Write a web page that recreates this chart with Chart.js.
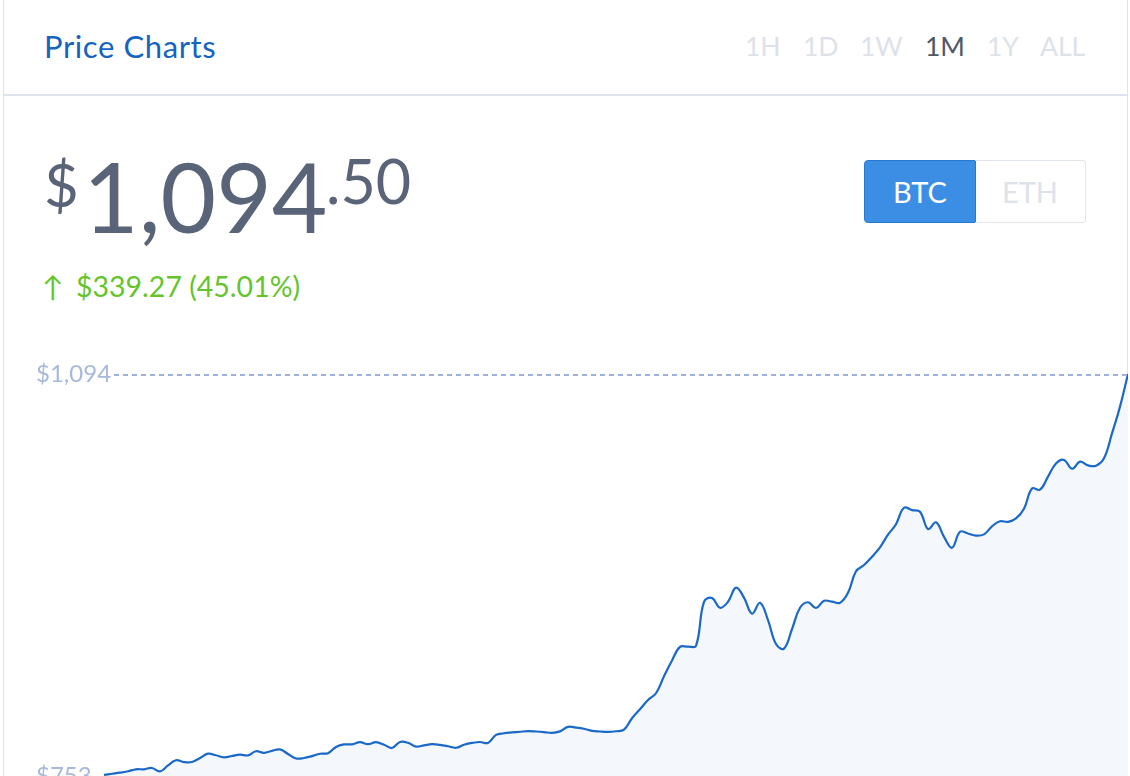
<!DOCTYPE html>
<html>
<head>
<meta charset="utf-8">
<title>Price Charts</title>
<script src="https://cdn.jsdelivr.net/npm/chart.js"></script>
<style>
    html, body { margin: 0; padding: 0; background: #fff; }
    body { width: 1130px; height: 776px; overflow: hidden; position: relative; font-family: Lato, "Open Sans", sans-serif; }
    .card { position: absolute; left: 3px; top: -2px; width: 1123px; height: 900px; border: 1px solid #dde3ec; border-top: none; }
    .abs { position: absolute; white-space: nowrap; line-height: normal; }
    .divider { position: absolute; left: 3px; top: 94px; width: 1125px; height: 2px; background: #dde3ec; }
    .title { left: 44px; top: 27px; font-size: 31px; letter-spacing: 0.6px; color: #1464c0; }
    .tab { top: 30px; font-size: 26.5px; color: #dde2ea; }
    .tab.active { color: #4f5868; }
    .price { color: #5a6478; font-weight: 400; }
    .change { top: 269px; font-size: 28.5px; color: #63c52b; }
    .toggle { position: absolute; left: 864px; top: 160px; width: 223px; height: 63px; }
    .toggle div { position: absolute; top: 0; height: 61px; line-height: 61px; text-align: center; font-size: 29px; box-sizing: content-box; }
    .btc { left: 0; width: 110px; background: #3b8ee4; border: 1px solid #2b78d0; border-radius: 4px 0 0 4px; color: #fff; }
    .eth { left: 111px; width: 110px; border: 1px solid #e1e6ee; border-left: none; border-radius: 0 4px 4px 0; color: #dde2ea; }
    #priceChart { position: absolute; left: 4px; top: 330px; }
</style>
</head>
<body>
<div class="card"></div>
<div class="divider"></div>

<div class="abs title">Price Charts</div>
<div class="abs tab" style="left:745px">1H</div>
<div class="abs tab" style="left:803px">1D</div>
<div class="abs tab" style="left:860px">1W</div>
<div class="abs tab active" style="left:925px">1M</div>
<div class="abs tab" style="left:987px">1Y</div>
<div class="abs tab" style="left:1040px">ALL</div>

<div class="abs price" style="left:44px; top:148px; font-size:60px">$</div>
<div class="abs price" style="left:83px; top:138px; font-size:96px">1,094</div>
<div class="abs price" style="left:326px; top:144px; font-size:61px">.50</div>

<div class="abs change" style="left:42px">&#8593;</div>
<div class="abs change" style="left:76px">$339.27 (45.01%)</div>

<div class="toggle">
    <div class="btc">BTC</div>
    <div class="eth">ETH</div>
</div>

<canvas id="priceChart" width="1124" height="470"></canvas>

<script>
    // BTC price over the last month (USD)
    const prices = [
        754.0, 754.9, 755.8, 757.0, 758.7, 758.7, 759.8, 756.9, 762.0, 766.4,
        764.8, 764.9, 768.3, 772.0, 770.6, 768.9, 770.0, 771.2, 770.5, 774.0,
        772.7, 774.4, 775.6, 771.7, 767.9, 768.3, 769.9, 771.9, 772.4, 777.7,
        779.8, 779.9, 781.7, 780.0, 781.7, 779.6, 776.8, 781.9, 781.2, 778.0,
        779.0, 780.0, 779.4, 778.3, 777.0, 779.5, 781.1, 781.9, 781.1, 787.9,
        789.3, 790.0, 790.6, 791.1, 790.8, 790.3, 789.6, 790.9, 794.7, 794.1,
        793.1, 791.4, 790.8, 790.5, 791.0, 792.4, 802.1, 809.7, 817.6, 823.3,
        837.7, 851.1, 862.7, 862.9, 863.6, 901.0, 904.2, 895.9, 901.0, 913.0,
        904.5, 890.9, 900.1, 885.5, 865.1, 861.2, 877.8, 895.9, 900.6, 895.7,
        901.8, 901.1, 900.1, 908.6, 926.9, 932.2, 939.3, 947.3, 958.0, 966.9,
        980.9, 978.9, 977.5, 962.8, 968.5, 956.2, 946.9, 960.5, 959.0, 957.2,
        958.3, 965.1, 969.4, 968.9, 971.8, 980.1, 997.3, 996.2, 1007.3, 1018.4,
        1021.5, 1014.0, 1020.0, 1016.9, 1016.6, 1022.9, 1044.0, 1066.8, 1094.5
    ];
    const times = prices.map((_, i) => i);

    // price labels shown at the left edge: high and low of the range
    const tickValues = [1094, 753];
    const tickLabels = ['$1,094', '$753'];
    const highValue = 1094;

    const rangeLabels = {
        id: 'rangeLabels',
        afterDatasetsDraw(chart) {
            const ctx = chart.ctx;
            const y = chart.scales.y;
            ctx.save();
            ctx.font = '24px Lato, sans-serif';
            ctx.fillStyle = '#a6b9dc';
            ctx.textAlign = 'left';
            ctx.textBaseline = 'middle';
            tickValues.forEach((v, i) => {
                ctx.fillText(tickLabels[i], 32, y.getPixelForValue(v));
            });
            // dashed guide at the high
            const hy = Math.round(y.getPixelForValue(highValue));
            ctx.strokeStyle = '#9db2dc';
            ctx.lineWidth = 2;
            ctx.setLineDash([5, 4]);
            ctx.beginPath();
            ctx.moveTo(110, hy);
            ctx.lineTo(chart.chartArea.right, hy);
            ctx.stroke();
            ctx.restore();
        }
    };

    new Chart(document.getElementById('priceChart').getContext('2d'), {
        type: 'line',
        data: {
            labels: times,
            datasets: [{
                data: prices,
                borderColor: '#1a68c7',
                borderWidth: 2.2,
                backgroundColor: '#f4f8fd',
                fill: 'start',
                tension: 0.4,
                pointRadius: 0,
                clip: false
            }]
        },
        options: {
            responsive: false,
            animation: false,
            layout: { padding: { left: 100, right: 0, top: 44, bottom: 24 } },
            plugins: { legend: { display: false }, tooltip: { enabled: false } },
            scales: {
                x: { display: false },
                y: { display: false, min: 753, max: 1094.5 }
            }
        },
        plugins: [rangeLabels]
    });
</script>
</body>
</html>
